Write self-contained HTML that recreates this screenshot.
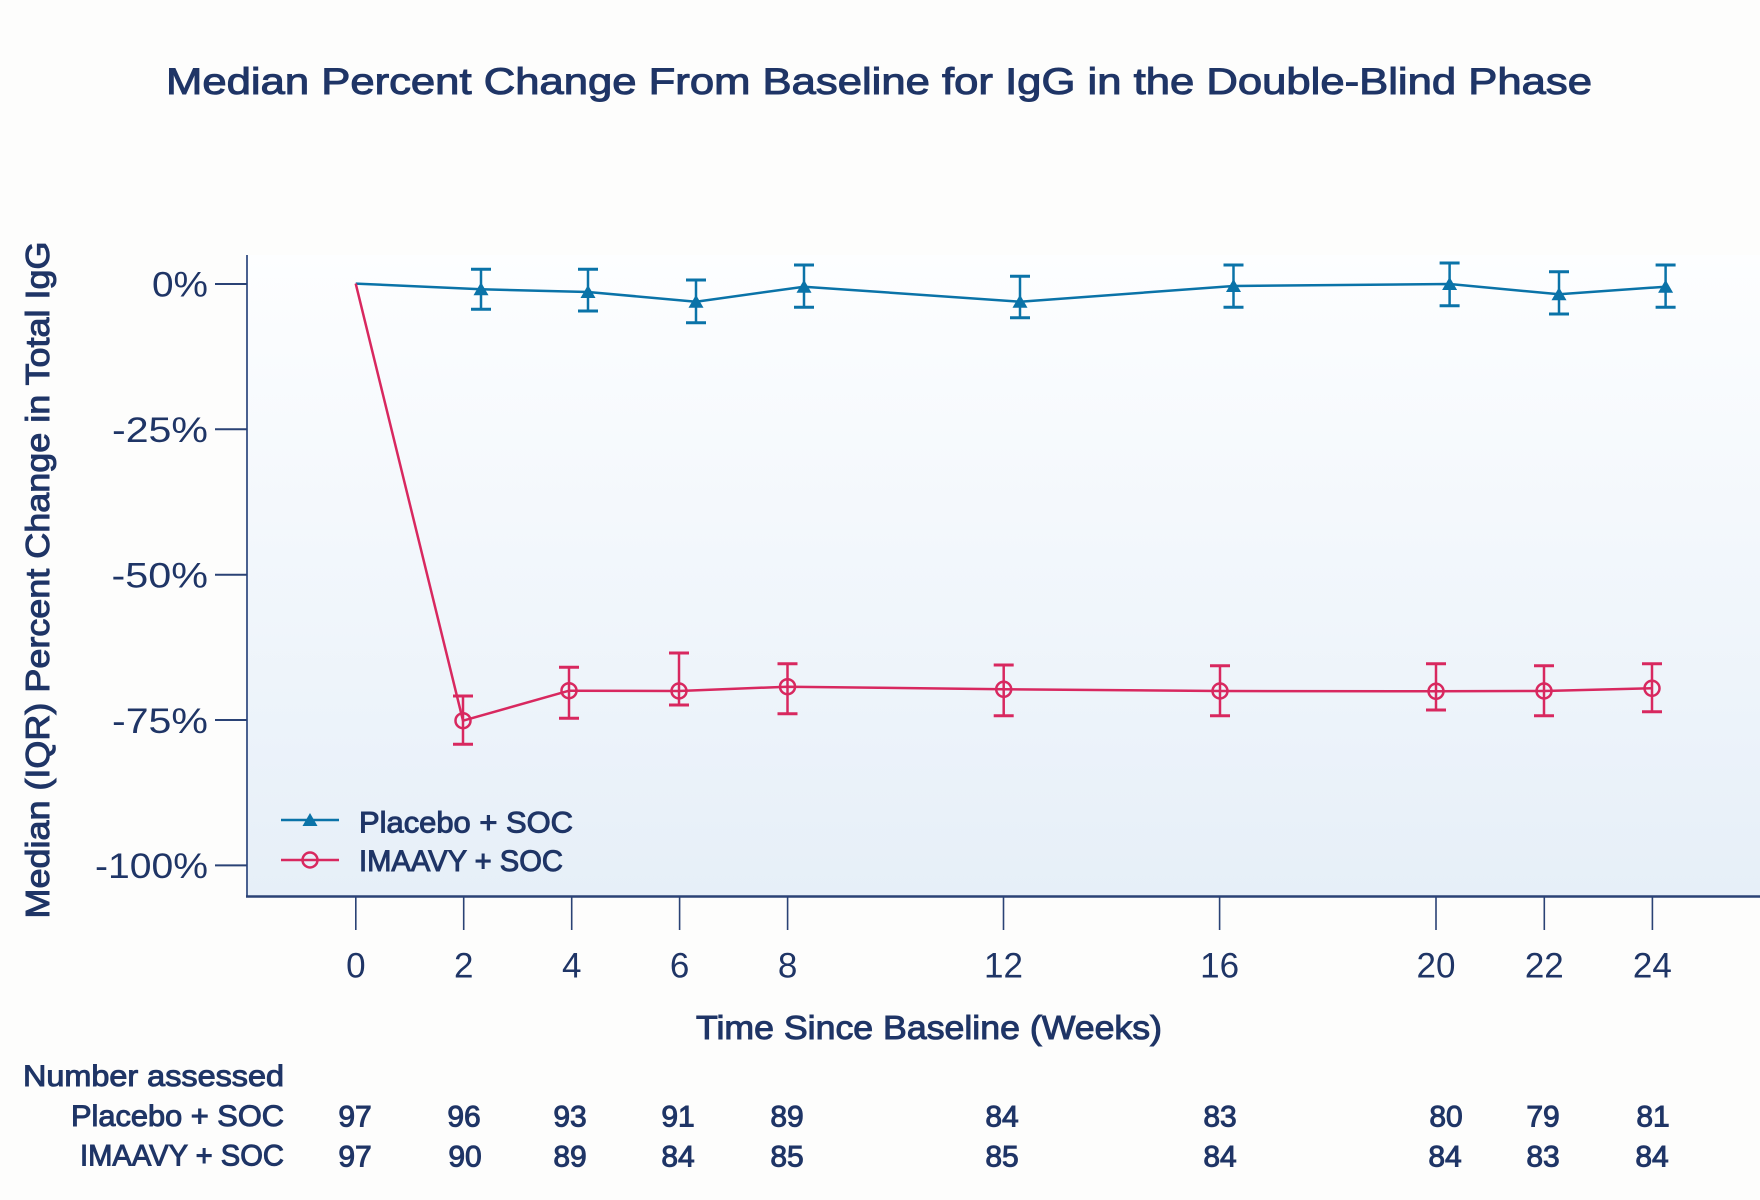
<!DOCTYPE html>
<html>
<head>
<meta charset="utf-8">
<style>
html,body{margin:0;padding:0;background:#fdfdfc;}
svg{display:block;}
text{font-family:"Liberation Sans",sans-serif;fill:#1f3566;}
.m{stroke:#1f3566;stroke-width:1.0;}
</style>
</head>
<body>
<svg width="1760" height="1200" viewBox="0 0 1760 1200" xmlns="http://www.w3.org/2000/svg">
<defs>
<linearGradient id="bg" x1="0" y1="0" x2="0" y2="1">
<stop offset="0" stop-color="#fdfeff"/>
<stop offset="1" stop-color="#e6eff8"/>
</linearGradient>
</defs>
<rect x="0" y="0" width="1760" height="1200" fill="#fdfdfc"/>
<rect x="247" y="255" width="1513" height="642" fill="url(#bg)"/>

<!-- Title -->
<text class="m" x="166" y="94" font-size="37" textLength="1426" lengthAdjust="spacingAndGlyphs">Median Percent Change From Baseline for IgG in the Double-Blind Phase</text>

<!-- Axes -->
<line x1="247" y1="255" x2="247" y2="897" stroke="#4a6190" stroke-width="2"/>
<line x1="246" y1="896.5" x2="1760" y2="896.5" stroke="#2a4275" stroke-width="2.5"/>

<!-- Y ticks -->
<g stroke="#2a4275" stroke-width="2">
<line x1="215" y1="284" x2="247" y2="284"/>
<line x1="215" y1="429.3" x2="247" y2="429.3"/>
<line x1="215" y1="574.7" x2="247" y2="574.7"/>
<line x1="215" y1="720" x2="247" y2="720"/>
<line x1="215" y1="865.4" x2="247" y2="865.4"/>
</g>
<g font-size="35" text-anchor="end">
<text x="208" y="296.5" textLength="56" lengthAdjust="spacingAndGlyphs">0%</text>
<text x="208" y="442" textLength="96" lengthAdjust="spacingAndGlyphs">-25%</text>
<text x="208" y="587.5" textLength="96.5" lengthAdjust="spacingAndGlyphs">-50%</text>
<text x="208" y="733" textLength="96" lengthAdjust="spacingAndGlyphs">-75%</text>
<text x="208" y="878" textLength="113" lengthAdjust="spacingAndGlyphs">-100%</text>
</g>

<!-- X ticks -->
<g stroke="#2a4275" stroke-width="1.6">
<line x1="355.8" y1="897" x2="355.8" y2="930"/>
<line x1="463.7" y1="897" x2="463.7" y2="930"/>
<line x1="571.7" y1="897" x2="571.7" y2="930"/>
<line x1="679.6" y1="897" x2="679.6" y2="930"/>
<line x1="787.6" y1="897" x2="787.6" y2="930"/>
<line x1="1003.5" y1="897" x2="1003.5" y2="930"/>
<line x1="1219.6" y1="897" x2="1219.6" y2="930"/>
<line x1="1436" y1="897" x2="1436" y2="930"/>
<line x1="1544.3" y1="897" x2="1544.3" y2="930"/>
<line x1="1652.4" y1="897" x2="1652.4" y2="930"/>
</g>
<g font-size="35" text-anchor="middle">
<text x="355.8" y="977.5">0</text>
<text x="463.7" y="977.5">2</text>
<text x="571.7" y="977.5">4</text>
<text x="679.6" y="977.5">6</text>
<text x="787.6" y="977.5">8</text>
<text x="1003.5" y="977.5">12</text>
<text x="1219.6" y="977.5">16</text>
<text x="1436" y="977.5">20</text>
<text x="1544.3" y="977.5">22</text>
<text x="1652.4" y="977.5">24</text>
</g>

<!-- Axis titles -->
<text class="m" x="929" y="1039" font-size="33" text-anchor="middle" textLength="466" lengthAdjust="spacingAndGlyphs">Time Since Baseline (Weeks)</text>
<text class="m" transform="translate(49,580) rotate(-90)" x="0" y="0" font-size="33" text-anchor="middle" textLength="677" lengthAdjust="spacingAndGlyphs">Median (IQR) Percent Change in Total IgG</text>

<!-- Placebo series (blue) -->
<g stroke="#0a73a8" fill="none">
<polyline stroke-width="2.5" stroke-linejoin="round" points="355.7,283.6 481,289.3 588,292 696,301.7 804,286.7 1020,301.7 1233.5,286 1449.6,284 1559,294.3 1665.6,286.7"/>
<g stroke-width="2.5">
<line x1="481" y1="269.3" x2="481" y2="309.3"/>
<line x1="588" y1="269.3" x2="588" y2="311"/>
<line x1="696" y1="280" x2="696" y2="322.7"/>
<line x1="804" y1="265" x2="804" y2="307.3"/>
<line x1="1020" y1="276.3" x2="1020" y2="317.7"/>
<line x1="1233.5" y1="265" x2="1233.5" y2="307.3"/>
<line x1="1449.6" y1="263" x2="1449.6" y2="305.7"/>
<line x1="1559" y1="271.7" x2="1559" y2="314"/>
<line x1="1665.6" y1="265" x2="1665.6" y2="307.3"/>
</g>
<g stroke-width="3">
<line x1="471" y1="269.3" x2="491" y2="269.3"/><line x1="471" y1="309.3" x2="491" y2="309.3"/>
<line x1="578" y1="269.3" x2="598" y2="269.3"/><line x1="578" y1="311" x2="598" y2="311"/>
<line x1="686" y1="280" x2="706" y2="280"/><line x1="686" y1="322.7" x2="706" y2="322.7"/>
<line x1="794" y1="265" x2="814" y2="265"/><line x1="794" y1="307.3" x2="814" y2="307.3"/>
<line x1="1010" y1="276.3" x2="1030" y2="276.3"/><line x1="1010" y1="317.7" x2="1030" y2="317.7"/>
<line x1="1223.5" y1="265" x2="1243.5" y2="265"/><line x1="1223.5" y1="307.3" x2="1243.5" y2="307.3"/>
<line x1="1439.6" y1="263" x2="1459.6" y2="263"/><line x1="1439.6" y1="305.7" x2="1459.6" y2="305.7"/>
<line x1="1549" y1="271.7" x2="1569" y2="271.7"/><line x1="1549" y1="314" x2="1569" y2="314"/>
<line x1="1655.6" y1="265" x2="1675.6" y2="265"/><line x1="1655.6" y1="307.3" x2="1675.6" y2="307.3"/>
</g>
</g>
<g fill="#0a73a8">
<polygon points="481,282.3 488.5,295.3 473.5,295.3"/>
<polygon points="588,285 595.5,298 580.5,298"/>
<polygon points="696,294.7 703.5,307.7 688.5,307.7"/>
<polygon points="804,279.7 811.5,292.7 796.5,292.7"/>
<polygon points="1020,294.7 1027.5,307.7 1012.5,307.7"/>
<polygon points="1233.5,279 1241,292 1226,292"/>
<polygon points="1449.6,277 1457.1,290 1442.1,290"/>
<polygon points="1559,287.3 1566.5,300.3 1551.5,300.3"/>
<polygon points="1665.6,279.7 1673.1,292.7 1658.1,292.7"/>
</g>

<!-- IMAAVY series (pink) -->
<g stroke="#d8285f" fill="none">
<polyline stroke-width="2.5" stroke-linejoin="round" points="355.7,283.6 463,720.7 569,690.7 679,691 787.5,686.7 1003.7,689.3 1220,691 1436,691.3 1544,691 1652,688.3"/>
<g stroke-width="2.5">
<line x1="463" y1="696" x2="463" y2="744.3"/>
<line x1="569" y1="667.3" x2="569" y2="718.3"/>
<line x1="679" y1="653" x2="679" y2="705"/>
<line x1="787.5" y1="663.7" x2="787.5" y2="713.7"/>
<line x1="1003.7" y1="665" x2="1003.7" y2="715.7"/>
<line x1="1220" y1="665.7" x2="1220" y2="715.7"/>
<line x1="1436" y1="663.7" x2="1436" y2="710"/>
<line x1="1544" y1="665.7" x2="1544" y2="715.7"/>
<line x1="1652" y1="663.7" x2="1652" y2="711.7"/>
</g>
<g stroke-width="3">
<line x1="453" y1="696" x2="473" y2="696"/><line x1="453" y1="744.3" x2="473" y2="744.3"/>
<line x1="559" y1="667.3" x2="579" y2="667.3"/><line x1="559" y1="718.3" x2="579" y2="718.3"/>
<line x1="669" y1="653" x2="689" y2="653"/><line x1="669" y1="705" x2="689" y2="705"/>
<line x1="777.5" y1="663.7" x2="797.5" y2="663.7"/><line x1="777.5" y1="713.7" x2="797.5" y2="713.7"/>
<line x1="993.7" y1="665" x2="1013.7" y2="665"/><line x1="993.7" y1="715.7" x2="1013.7" y2="715.7"/>
<line x1="1210" y1="665.7" x2="1230" y2="665.7"/><line x1="1210" y1="715.7" x2="1230" y2="715.7"/>
<line x1="1426" y1="663.7" x2="1446" y2="663.7"/><line x1="1426" y1="710" x2="1446" y2="710"/>
<line x1="1534" y1="665.7" x2="1554" y2="665.7"/><line x1="1534" y1="715.7" x2="1554" y2="715.7"/>
<line x1="1642" y1="663.7" x2="1662" y2="663.7"/><line x1="1642" y1="711.7" x2="1662" y2="711.7"/>
</g>
<g stroke-width="2.5">
<circle cx="463" cy="720.7" r="7.5"/>
<circle cx="569" cy="690.7" r="7.5"/>
<circle cx="679" cy="691" r="7.5"/>
<circle cx="787.5" cy="686.7" r="7.5"/>
<circle cx="1003.7" cy="689.3" r="7.5"/>
<circle cx="1220" cy="691" r="7.5"/>
<circle cx="1436" cy="691.3" r="7.5"/>
<circle cx="1544" cy="691" r="7.5"/>
<circle cx="1652" cy="688.3" r="7.5"/>
</g>
</g>

<!-- Legend -->
<line x1="281" y1="820" x2="339" y2="820" stroke="#0a73a8" stroke-width="2.5"/>
<polygon points="310,813 317.5,826 302.5,826" fill="#0a73a8"/>
<line x1="281" y1="860" x2="339" y2="860" stroke="#d8285f" stroke-width="2.5"/>
<circle cx="310" cy="860" r="7.5" fill="none" stroke="#d8285f" stroke-width="2.5"/>
<g font-size="30">
<text class="m" x="359" y="832.5" textLength="214" lengthAdjust="spacingAndGlyphs">Placebo + SOC</text>
<text class="m" x="359" y="871" textLength="204" lengthAdjust="spacingAndGlyphs">IMAAVY + SOC</text>
</g>

<!-- Number assessed table -->
<g font-size="30" text-anchor="end">
<text class="m" x="284" y="1086" textLength="261" lengthAdjust="spacingAndGlyphs">Number assessed</text>
<text class="m" x="284" y="1126" textLength="213" lengthAdjust="spacingAndGlyphs">Placebo + SOC</text>
<text class="m" x="284" y="1165.5" textLength="204" lengthAdjust="spacingAndGlyphs">IMAAVY + SOC</text>
</g>
<g font-size="30" text-anchor="middle" class="m">
<text x="355" y="1126.5">97</text>
<text x="464" y="1126.5">96</text>
<text x="570" y="1126.5">93</text>
<text x="678" y="1126.5">91</text>
<text x="787" y="1126.5">89</text>
<text x="1002" y="1126.5">84</text>
<text x="1220" y="1126.5">83</text>
<text x="1446" y="1126.5">80</text>
<text x="1543" y="1126.5">79</text>
<text x="1653" y="1126.5">81</text>
<text x="355" y="1166.5">97</text>
<text x="465" y="1166.5">90</text>
<text x="570" y="1166.5">89</text>
<text x="678" y="1166.5">84</text>
<text x="787" y="1166.5">85</text>
<text x="1002" y="1166.5">85</text>
<text x="1220" y="1166.5">84</text>
<text x="1445" y="1166.5">84</text>
<text x="1543" y="1166.5">83</text>
<text x="1652" y="1166.5">84</text>
</g>
</svg>
</body>
</html>
